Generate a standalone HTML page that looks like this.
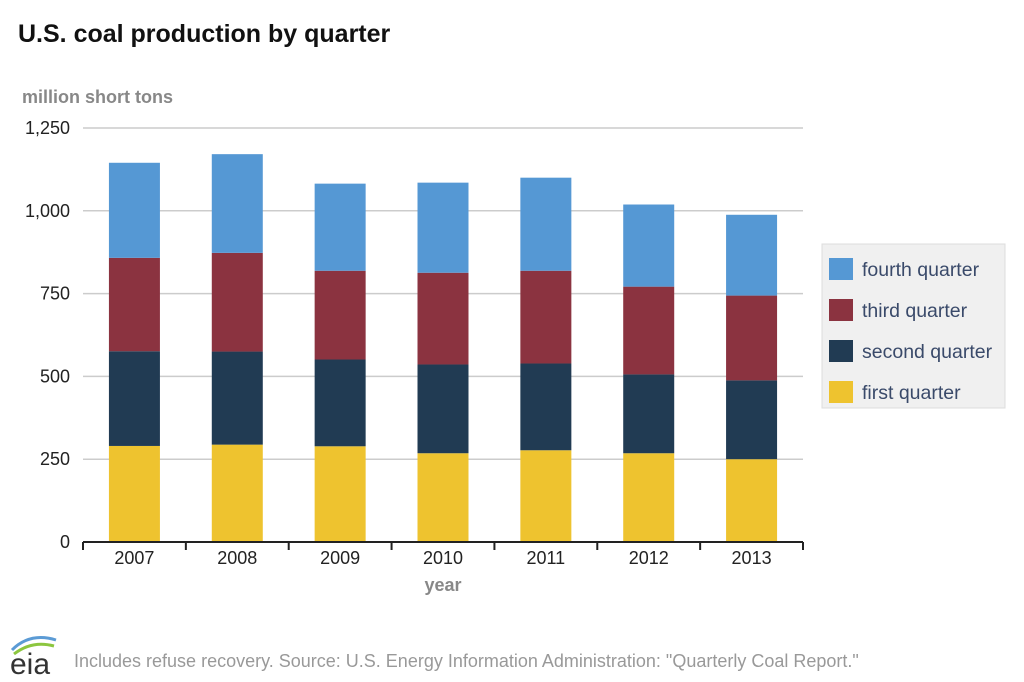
<!DOCTYPE html>
<html><head><meta charset="utf-8"><style>
body{margin:0;background:#fff;font-family:"Liberation Sans",Arial,sans-serif;}
svg{display:block}
</style></head><body>
<svg id="chart" width="1024" height="682" xmlns="http://www.w3.org/2000/svg">
<text x="18" y="42" font-size="25" font-weight="bold" fill="#111">U.S. coal production by quarter</text>
<text x="22" y="103" font-size="18" font-weight="bold" fill="#888">million short tons</text>
<g id="grid"></g><g id="bars"></g><g id="axis"></g>
<text x="443" y="591" font-size="18" font-weight="bold" fill="#888" text-anchor="middle">year</text>
<g>
<rect x="822" y="244" width="183" height="164" fill="#f0f0f0" stroke="#ddd"/>
<g id="legend"></g>
</g>
<g>
<path d="M12 650 Q30 632 56 640" stroke="#5b9bd5" stroke-width="3" fill="none"/>
<path d="M14 654 Q32 640 54 646" stroke="#8cc63f" stroke-width="3" fill="none"/>
<text x="10" y="674" font-size="30" fill="#333">eia</text>
</g>
<text x="74" y="667" font-size="18" fill="#999">Includes refuse recovery. Source: U.S. Energy Information Administration: "Quarterly Coal Report."</text>
</svg>
<script>
const years=["2007","2008","2009","2010","2011","2012","2013"];
const q1=[290,294,289,268,277,268,250];
const q2=[286,281,262,268,262,238,238];
const q3=[282,298,268,277,280,265,256];
const q4=[287,298,263,272,281,248,244];
const yTicks=[0,250,500,750,1000,1250];
const yTickLabels=["0","250","500","750","1,000","1,250"];
const seriesNames=["fourth quarter","third quarter","second quarter","first quarter"];
const NS="http://www.w3.org/2000/svg";
const x0=83,x1=803,y0=542,yTop=128,maxV=1250;
const y=v=>y0-(v/maxV)*(y0-yTop);
const band=(x1-x0)/years.length;
const xc=i=>x0+band*(i+0.5);
function mk(t,a,p){const e=document.createElementNS(NS,t);for(const k in a)e.setAttribute(k,a[k]);p.appendChild(e);return e;}
const grid=document.getElementById('grid'),bars=document.getElementById('bars'),axis=document.getElementById('axis'),leg=document.getElementById('legend');
yTicks.forEach((v,i)=>{
 if(v>0){const l=mk('line',{x1:x0,x2:x1,y1:y(v),y2:y(v),stroke:'#ccc','stroke-width':1.5},grid);
 
 }
 const t=mk('text',{x:70,y:y(v)+6,'font-size':18,fill:'#222','text-anchor':'end'},axis);t.textContent=yTickLabels[i];
 
 
});
const bl=mk('line',{x1:x0,x2:x1,y1:y0,y2:y0,stroke:'#222','stroke-width':2},axis);


const series=[q1,q2,q3,q4];const colors=["#eec32f","#213b53","#8b3340","#5598d4"];const sn=["q1","q2","q3","q4"];
const bw=51;
years.forEach((yr,i)=>{
 let acc=0;
 series.forEach((s,j)=>{
  const r=mk('rect',{x:xc(i)-bw/2,y:y(acc+s[i]),width:bw,height:y(acc)-y(acc+s[i]),fill:colors[j]},bars);
  
  
  acc+=s[i];
 });
 const t=mk('text',{x:xc(i),y:564,'font-size':18,fill:'#222','text-anchor':'middle'},axis);t.textContent=yr;
 
 
});
for(let i=0;i<=years.length;i++){const tk=mk('line',{x1:x0+band*i,x2:x0+band*i,y1:y0,y2:y0+8,stroke:'#222','stroke-width':2},axis);
 
 }
const lc=["#5598d4","#8b3340","#213b53","#eec32f"];
seriesNames.forEach((n,i)=>{
 const yy=258+i*41;
 const r=mk('rect',{x:829,y:yy,width:24,height:22,fill:lc[i]},leg);
 
 
 const t=mk('text',{x:862,y:yy+18,'font-size':19.5,fill:'#3a4a6a'},leg);t.textContent=n;
 
 
});
</script>
</body></html>
